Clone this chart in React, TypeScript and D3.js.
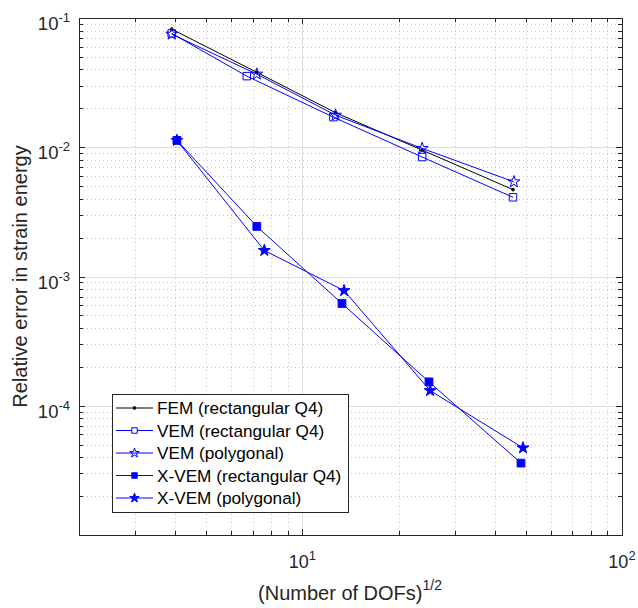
import { useLayoutEffect, useRef } from 'react'
import * as d3 from 'd3'

// sqrt(DOFs) and relative error in strain energy
const femX = [3.9, 7.2, 12.7, 23.7, 45.6]
const femY = [0.082, 0.038, 0.0185, 0.0095, 0.0047]

const vemRectX = [3.9, 6.7, 12.5, 23.7, 45.6]
const vemRectY = [0.076, 0.0355, 0.0171, 0.0084, 0.0041]

const vemPolyX = [3.9, 7.2, 12.7, 23.7, 45.9]
const vemPolyY = [0.075, 0.0368, 0.0177, 0.0098, 0.0054]

const xvemRectX = [4.05, 7.2, 13.3, 24.9, 48.3]
const xvemRectY = [0.0113, 0.00244, 0.000618, 0.000153, 0.000036]

const xvemPolyX = [4.05, 7.6, 13.5, 25.1, 49]
const xvemPolyY = [0.0113, 0.00159, 0.000778, 0.000131, 0.0000472]

const seriesNames = [
  'FEM (rectangular Q4)',
  'VEM (rectangular Q4)',
  'VEM (polygonal)',
  'X-VEM (rectangular Q4)',
  'X-VEM (polygonal)'
]

const xTickExp = [1, 2]
const yTickExp = [-1, -2, -3, -4]

const useD3 = (renderChartFn, dependencies) => {
  const ref = useRef()
  useLayoutEffect(() => {
    renderChartFn(d3.select(ref.current))
    return () => {}
  }, dependencies)
  return ref
}

const FONT = 'Liberation Sans, Arial, Helvetica, sans-serif'
const AXIS = '#262626'

const App = () => {
  const ref = useD3((svg) => {
    svg.selectAll('*').remove()
    const left = 79
    const right = 622
    const top = 18
    const bottom = 535

    const x = d3.scaleLog().domain([2, 100]).range([left, right])
    const y = d3.scaleLog().domain([1e-5, 1e-1]).range([bottom, top])

    const series = [
      { xs: femX, ys: femY, color: '#000000', marker: 'dot' },
      { xs: vemRectX, ys: vemRectY, color: '#0000ff', marker: 'squareOpen' },
      { xs: vemPolyX, ys: vemPolyY, color: '#0000ff', marker: 'starOpen' },
      { xs: xvemRectX, ys: xvemRectY, color: '#0000ff', marker: 'square' },
      { xs: xvemPolyX, ys: xvemPolyY, color: '#0000ff', marker: 'star' }
    ].map((s, i) => ({ ...s, name: seriesNames[i] }))

    svg.append('rect').attr('width', 638).attr('height', 608).attr('fill', '#fff')

    // minor / major tick positions
    const xMinor = []
    for (let e = 0; e <= 1; e++) {
      for (let k = 2; k <= 9; k++) {
        const v = k * Math.pow(10, e)
        if (v > 2 && v < 100) xMinor.push(v)
      }
    }
    const yMinor = []
    for (let e = -5; e <= -2; e++) {
      for (let k = 2; k <= 9; k++) yMinor.push(k * Math.pow(10, e))
    }
    const xMajor = xTickExp.map((e) => Math.pow(10, e))
    const yMajor = yTickExp.map((e) => Math.pow(10, e))

    const grid = svg.append('g')
    grid
      .selectAll('.xmin')
      .data(xMinor)
      .enter()
      .append('line')
      .attr('x1', (d) => Math.round(x(d)) + 0.5)
      .attr('x2', (d) => Math.round(x(d)) + 0.5)
      .attr('y1', top)
      .attr('y2', bottom)
      .attr('stroke', '#c4c4c4')
      .attr('stroke-dasharray', '1,3')
    grid
      .selectAll('.ymin')
      .data(yMinor)
      .enter()
      .append('line')
      .attr('y1', (d) => Math.round(y(d)) + 0.5)
      .attr('y2', (d) => Math.round(y(d)) + 0.5)
      .attr('x1', left)
      .attr('x2', right)
      .attr('stroke', '#c4c4c4')
      .attr('stroke-dasharray', '1,3')
    grid
      .selectAll('.xmaj')
      .data(xMajor.filter((d) => d < 100))
      .enter()
      .append('line')
      .attr('x1', (d) => Math.round(x(d)) + 0.5)
      .attr('x2', (d) => Math.round(x(d)) + 0.5)
      .attr('y1', top)
      .attr('y2', bottom)
      .attr('stroke', '#dedede')
    grid
      .selectAll('.ymaj')
      .data(yMajor.filter((d) => d < 0.1))
      .enter()
      .append('line')
      .attr('y1', (d) => Math.round(y(d)) + 0.5)
      .attr('y2', (d) => Math.round(y(d)) + 0.5)
      .attr('x1', left)
      .attr('x2', right)
      .attr('stroke', '#dedede')

    // data
    const line = d3
      .line()
      .x((d) => x(d[0]))
      .y((d) => y(d[1]))

    series.forEach((s) => {
      const pts = s.xs.map((v, i) => [v, s.ys[i]])
      const g = svg.append('g')
      g.append('path')
        .attr('d', line(pts))
        .attr('fill', 'none')
        .attr('stroke', s.color)
        .attr('stroke-width', 1)
      const m = g
        .selectAll('path.m')
        .data(pts)
        .enter()
        .append('path')
        .attr('transform', (d) => `translate(${x(d[0])},${y(d[1])})`)
        .attr('stroke', s.color)
      if (s.marker === 'dot') {
        m.attr('d', d3.symbol(d3.symbolCircle, 6)()).attr('fill', s.color)
      } else if (s.marker === 'squareOpen') {
        m.attr('d', d3.symbol(d3.symbolSquare, 56)()).attr('fill', 'none')
      } else if (s.marker === 'square') {
        m.attr('d', d3.symbol(d3.symbolSquare, 60)()).attr('fill', s.color)
      } else if (s.marker === 'starOpen') {
        m.attr('d', d3.symbol(d3.symbolStar, 44)()).attr('fill', 'none')
      } else {
        m.attr('d', d3.symbol(d3.symbolStar, 44)()).attr('fill', s.color)
      }
    })

    // axes box with inward ticks on all sides
    const ax = svg.append('g').attr('stroke', AXIS).attr('fill', 'none')
    ax.append('rect')
      .attr('x', left + 0.5)
      .attr('y', top + 0.5)
      .attr('width', right - left)
      .attr('height', bottom - top)
      .attr('stroke-width', 1)

    const xTicks = [
      ...xMajor.map((v) => ({ v, len: 6 })),
      ...xMinor.map((v) => ({ v, len: 4 }))
    ]
    const yTicks = [
      ...yMajor.map((v) => ({ v, len: 6 })),
      ...yMinor.map((v) => ({ v, len: 4 }))
    ]
    xTicks.forEach((t) => {
      const px = Math.round(x(t.v)) + 0.5
      ax.append('line').attr('x1', px).attr('x2', px).attr('y1', bottom).attr('y2', bottom - t.len)
      ax.append('line').attr('x1', px).attr('x2', px).attr('y1', top).attr('y2', top + t.len)
    })
    yTicks.forEach((t) => {
      const py = Math.round(y(t.v)) + 0.5
      ax.append('line').attr('y1', py).attr('y2', py).attr('x1', left).attr('x2', left + t.len)
      ax.append('line').attr('y1', py).attr('y2', py).attr('x1', right).attr('x2', right - t.len)
    })

    // tick labels
    const lab = svg.append('g').attr('font-family', FONT).attr('fill', AXIS)
    xTickExp.forEach((e) => {
      const t = lab
        .append('text')
        .attr('x', x(Math.pow(10, e)))
        .attr('y', 568)
        .attr('text-anchor', 'middle')
        .attr('font-size', 18)
      t.append('tspan').text('10')
      t.append('tspan').attr('dy', -8).attr('font-size', 13).text(String(e))
    })
    yTickExp.forEach((e) => {
      const t = lab
        .append('text')
        .attr('x', 70)
        .attr('y', y(Math.pow(10, e)) + 12)
        .attr('text-anchor', 'end')
        .attr('font-size', 18.5)
      t.append('tspan').text('10')
      t.append('tspan').attr('dy', -8).attr('font-size', 13).text(String(e))
    })

    // axis labels
    const xl = lab
      .append('text')
      .attr('x', 350)
      .attr('y', 600)
      .attr('text-anchor', 'middle')
      .attr('font-size', 20)
    xl.append('tspan').text('(Number of DOFs)')
    xl.append('tspan').attr('dy', -10).attr('font-size', 14).text('1/2')

    lab
      .append('text')
      .attr('transform', `translate(27,${(top + bottom) / 2}) rotate(-90)`)
      .attr('text-anchor', 'middle')
      .attr('font-size', 20)
      .text('Relative error in strain energy')

    // legend
    const lg = svg.append('g')
    lg.append('rect')
      .attr('x', 112.5)
      .attr('y', 394.5)
      .attr('width', 236)
      .attr('height', 118)
      .attr('fill', '#fff')
      .attr('stroke', AXIS)
    series.forEach((s, i) => {
      const cy = 408 + i * 22.5
      const row = lg.append('g')
      row.append('line')
        .attr('x1', 116)
        .attr('x2', 153)
        .attr('y1', cy)
        .attr('y2', cy)
        .attr('stroke', s.color)
      const mk = row
        .append('path')
        .attr('transform', `translate(134.5,${cy})`)
        .attr('stroke', s.color)
      if (s.marker === 'dot') mk.attr('d', d3.symbol(d3.symbolCircle, 6)()).attr('fill', s.color)
      else if (s.marker === 'squareOpen') mk.attr('d', d3.symbol(d3.symbolSquare, 30)()).attr('fill', '#fff')
      else if (s.marker === 'square') mk.attr('d', d3.symbol(d3.symbolSquare, 30)()).attr('fill', s.color)
      else if (s.marker === 'starOpen') mk.attr('d', d3.symbol(d3.symbolStar, 28)()).attr('fill', 'none')
      else mk.attr('d', d3.symbol(d3.symbolStar, 28)()).attr('fill', s.color)
      row.append('text')
        .attr('x', 157)
        .attr('y', cy + 6)
        .attr('font-family', FONT)
        .attr('font-size', 17.2)
        .attr('fill', '#000')
        .text(s.name)
    })
  }, [])

  return (
    <svg
      ref={ref}
      width={638}
      height={608}
      style={{ position: 'absolute', left: 0, top: 0 }}
    />
  )
}

export default App
